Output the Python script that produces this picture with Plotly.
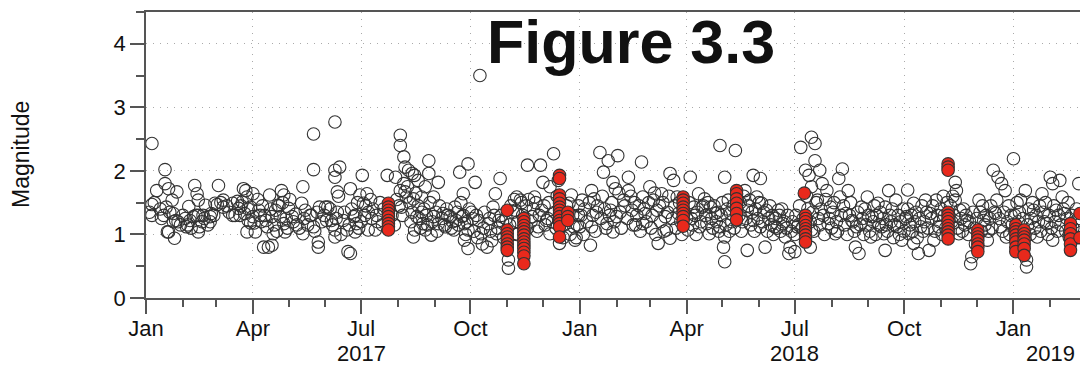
import pandas as pd
import plotly.graph_objects as go

BASE_DATE = "2017-01-01"

# ---- data: (day offset from 2017-01-01, magnitude) ----
q1_2017 = [(5,2.43),(16,2.02),(9,1.69),(5,1.47),(5,1.30),(16,1.80),(19,1.72),(26,1.67),(22,1.54),(17,1.43),
           (15,1.30),(23,1.33),(19,1.04),(18,1.04),(24,0.94),(23,1.20),(27,1.20),(33,1.25),(34,1.12),(37,1.22),
           (41,1.77),(43,1.64),(44,1.54),(36,1.44),(40,1.28),(44,1.30),(45,1.12),(44,1.04),(48,1.30),(50,1.46),
           (54,1.28),(54,1.20),(55,1.33),(61,1.77),(58,1.49),(65,1.54),(65,1.43),(73,1.49),(73,1.30),(78,1.41),
           (82,1.72),(84,1.69),(85,1.59),(81,1.51),(79,1.30),(83,1.33),(88,1.43),(86,1.22),(85,1.04),
           (3,1.35),(7,1.50),(12,1.40),(13,1.25),(20,1.35),(25,1.22),(29,1.15),(31,1.30),(35,1.15),(38,1.10),
           (42,1.30),(47,1.20),(49,1.25),(52,1.15),(57,1.30),(60,1.47),(63,1.50),(68,1.45),(70,1.35),(75,1.30),
           (77,1.52),(80,1.45),(86,1.40),(88,1.18)]
q2_2017 = [(90,1.64),(92,1.04),(90,1.28),(95,1.38),(96,1.30),(99,0.80),(103,0.80),(106,0.83),(97,1.20),(102,1.12),
           (104,1.62),(106,1.28),(109,1.38),(107,1.01),(111,1.46),(114,1.69),(116,1.62),(113,1.28),(116,1.17),(117,1.04),
           (120,1.41),(123,1.28),(127,1.15),(132,1.75),(131,1.49),(134,1.38),(132,1.01),(138,1.30),(141,1.12),(141,2.58),
           (141,2.02),(145,0.88),(145,0.80),(146,1.43),(151,1.43),(152,1.22),(159,2.77),(159,2.01),(163,2.06),(159,1.90),
           (161,1.67),(172,1.72),(153,1.43),(161,1.35),(156,1.22),(159,1.07),(159,0.96),(170,0.73),(172,0.70),(166,1.22),
           (169,1.07),(175,1.28),(177,1.17),(176,1.04),(180,1.62),
           (91,1.18),(94,1.55),(98,1.45),(100,1.30),(101,1.22),(105,1.40),(108,1.15),(110,1.05),(112,1.45),(115,1.50),
           (118,1.25),(119,1.10),(121,1.55),(124,1.20),(126,1.32),(129,1.10),(133,1.25),(136,1.15),(139,1.30),(142,1.05),
           (144,1.35),(148,1.20),(150,1.30),(155,1.40),(157,1.15),(160,1.25),(162,1.60),(164,1.00),(167,1.35),(171,1.15),
           (173,1.40),(176,1.30),(178,1.50),(179,1.10)]
q3_2017 = [(182,1.93),(183,1.49),(186,1.64),(187,1.35),(190,1.25),(193,1.07),(187,1.07),(203,1.93),(210,1.90),(214,2.56),
           (214,2.40),(217,2.22),(218,2.06),(221,2.01),(224,1.96),(226,1.93),(229,1.85),(235,1.75),(238,2.16),(238,1.96),
           (246,1.82),(214,1.69),(218,1.67),(219,1.59),(215,1.43),(225,1.56),(232,1.59),(242,1.59),(224,1.35),(228,1.28),
           (232,1.35),(233,1.17),(226,1.07),(225,0.96),(235,1.07),(240,0.99),(242,1.28),(246,1.17),(250,1.33),(252,1.12),
           (256,1.28),(260,1.43),(261,1.22),(259,1.07),(264,1.98),(271,2.11),(267,1.64),(266,1.28),(268,1.17),(271,1.07),
           (268,0.91),(271,0.78),
           (181,1.20),(184,1.30),(185,1.45),(189,1.55),(191,1.40),(194,1.30),(195,1.20),(197,1.50),(199,1.15),(200,1.40),
           (207,1.30),(209,1.15),(211,1.55),(213,1.45),(216,1.30),(217,1.80),(220,1.75),(222,1.50),(223,1.20),(227,1.65),
           (229,1.45),(230,1.25),(231,1.10),(234,1.40),(236,1.30),(237,1.15),(239,1.50),(241,1.20),(244,1.35),(245,1.05),
           (247,1.45),(249,1.25),(251,1.15),(253,1.40),(254,1.30),(257,1.10),(258,1.20),(262,1.35),(263,1.15),(265,1.50),
           (267,1.30),(269,1.00),(270,1.20),(272,1.40)]
q4_2017 = [(277,1.82),(274,1.35),(280,1.22),(282,1.01),(281,3.50),(288,1.17),(287,0.80),(292,1.43),(294,1.64),(298,1.88),
           (297,1.22),(295,1.01),(305,0.60),(305,0.47),(332,2.09),(343,2.27),(327,1.59),(312,1.59),(315,1.54),(311,1.38),
           (334,1.82),(340,1.75),(333,1.38),(337,1.22),(330,1.12),(325,1.28),(312,1.01),(340,1.01),(348,0.86),(356,1.49),
           (358,1.62),(360,1.12),(361,0.91),(364,1.30),(321,2.09),(347,1.85),
           (275,1.25),(276,1.05),(278,1.30),(279,0.95),(283,0.85),(284,1.10),(285,1.35),(289,1.25),(290,1.05),(291,0.90),
           (293,1.30),(296,1.10),(299,1.30),(300,1.20),(301,0.95),(303,1.25),(306,1.15),(307,1.45),(309,1.35),(310,1.55),
           (312,1.00),(313,1.20),(316,1.50),(317,1.30),(320,1.45),(321,1.10),(322,1.55),(324,1.20),(326,1.40),(328,1.50),
           (329,1.05),(331,1.30),(335,1.45),(336,1.15),(338,1.25),(339,1.50),(342,1.20),(344,1.35),(345,1.10),(346,1.60),
           (350,1.30),(351,0.95),(352,1.15),(354,1.45),(357,1.00),(359,1.30),(362,0.95),(363,1.15),(364,1.45)]
q1_2018 = [(365,1.12),(367,1.54),(375,1.69),(377,1.56),(375,1.12),(374,0.83),(379,1.35),(382,2.29),(389,2.16),(397,2.24),
           (385,1.98),(388,1.17),(391,1.38),(393,1.82),(395,1.72),(396,1.28),(393,1.04),(402,1.54),(406,1.90),(406,1.69),
           (409,1.38),(412,1.15),(417,2.14),(418,1.59),(418,1.17),(420,1.33),(424,1.75),(427,1.54),(430,1.38),(431,0.86),
           (434,1.64),(437,1.28),(441,0.94),(438,1.07),(441,1.96),(444,1.85),(447,1.59),(448,1.33),
           (366,1.30),(368,1.00),(369,1.40),(371,1.20),(373,1.50),(376,1.30),(378,1.05),(380,1.45),(383,1.25),(384,1.60),
           (386,1.40),(387,1.10),(390,1.30),(392,1.50),(394,1.20),(398,1.65),(399,1.35),(400,1.10),(403,1.45),(405,1.25),
           (408,1.60),(410,1.15),(411,1.50),(413,1.30),(415,1.45),(416,1.05),(419,1.40),(421,1.20),(423,1.50),(425,1.10),
           (426,1.30),(428,1.65),(429,1.00),(432,1.45),(433,1.20),(435,1.50),(436,1.05),(439,1.35),(440,1.60),(443,1.25),
           (445,1.45),(446,1.10),(449,1.50),(450,1.20),(451,1.00),(453,1.35)]
q2_2018 = [(458,1.90),(461,1.43),(459,1.25),(456,1.07),(483,2.40),(496,2.32),(487,1.90),(511,1.93),(517,1.88),(465,1.64),
           (470,1.56),(468,1.43),(475,1.43),(479,1.33),(472,1.17),(466,1.12),(474,1.01),(483,1.12),(487,0.96),(486,0.80),
           (487,0.57),(490,1.54),(492,1.33),(504,1.69),(508,1.54),(506,1.38),(511,1.22),(506,0.75),(514,1.59),(518,1.49),
           (517,1.12),(521,0.80),(522,1.38),(527,1.30),(529,1.12),(532,1.38),(536,1.17),(538,0.96),(541,0.70),(542,0.80),
           (455,1.25),(457,1.50),(460,1.15),(462,1.30),(463,1.00),(464,1.35),(467,1.20),(469,1.45),(471,1.30),(473,1.50),
           (476,1.25),(477,1.10),(478,1.45),(480,1.20),(481,1.35),(482,1.05),(484,1.30),(485,1.50),(488,1.15),(489,1.40),
           (491,1.05),(493,1.20),(494,1.45),(495,1.10),(499,1.30),(500,1.50),(501,1.05),(502,1.20),(503,1.60),(505,1.25),
           (507,1.45),(509,1.15),(510,1.35),(512,1.05),(513,1.40),(515,1.25),(516,1.50),(519,1.20),(520,1.35),(523,1.05),
           (524,1.25),(525,1.45),(526,1.15),(528,1.00),(530,1.25),(531,1.10),(533,1.30),(534,1.05),(535,1.40),(537,1.20),
           (539,1.10),(540,1.30),(543,1.05),(544,1.20)]
q3_2018 = [(546,0.73),(548,1.12),(551,2.37),(560,2.53),(563,2.43),(563,2.16),(555,2.01),(558,1.93),(567,2.01),(560,1.75),
           (565,1.54),(560,1.07),(559,0.80),(569,1.80),(573,1.69),(576,1.43),(574,1.17),(580,1.01),(583,1.88),(586,2.03),
           (584,1.59),(591,1.69),(589,1.33),(594,1.22),(598,1.12),(597,0.80),(600,0.70),(602,1.43),(607,1.59),(610,0.96),
           (611,1.28),(616,1.49),(619,1.12),(625,1.69),(622,1.43),(626,1.30),(621,1.01),(622,0.75),(631,1.54),(632,1.12),
           (636,0.91),
           (546,1.00),(547,1.30),(549,1.15),(550,1.45),(552,1.10),(553,1.25),(556,1.60),(557,1.40),(559,1.20),(561,1.35),
           (562,1.05),(564,1.50),(566,1.25),(567,1.15),(568,1.40),(570,1.30),(571,1.00),(572,1.55),(575,1.25),(577,1.10),
           (578,1.35),(579,1.50),(581,1.20),(582,1.05),(585,1.30),(587,1.45),(588,1.15),(590,1.00),(592,1.30),(593,1.50),
           (595,1.20),(596,1.05),(599,1.35),(601,1.15),(603,1.25),(604,1.00),(605,1.40),(606,1.15),(608,1.30),(609,1.05),
           (612,1.20),(613,1.45),(614,1.00),(615,1.30),(617,1.15),(618,1.35),(620,1.25),(623,1.15),(624,1.05),(627,1.20),
           (628,1.40),(629,0.95),(630,1.15),(633,1.30),(634,1.00),(635,1.20),(637,1.40)]
q4_2018 = [(640,1.28),(642,1.01),(646,1.49),(646,0.86),(650,0.70),(652,1.12),(656,1.54),(660,1.33),(659,0.75),(663,0.91),
           (665,1.54),(667,1.12),(681,1.82),(682,1.69),(681,1.54),(685,1.38),(684,1.01),(691,1.22),(694,0.54),(695,0.65),
           (701,1.54),(705,1.22),(708,0.91),(713,2.01),(717,1.90),(720,1.80),(723,1.69),(716,1.54),(715,1.33),(719,1.12),
           (724,0.96),(641,1.70),
           (638,1.05),(639,1.25),(641,1.40),(643,1.15),(644,1.30),(645,1.05),(647,1.20),(648,1.35),(649,0.95),(651,1.25),
           (653,1.45),(654,1.05),(655,1.20),(657,1.35),(658,1.10),(661,1.25),(662,1.45),(664,1.05),(666,1.30),(668,1.20),
           (669,1.40),(670,1.00),(671,1.60),(672,1.30),(673,1.10),(674,1.50),(677,1.45),(678,1.20),(679,1.60),(680,1.30),
           (683,1.10),(686,1.25),(687,1.05),(688,1.40),(689,1.15),(690,1.30),(692,1.00),(693,1.20),(696,1.35),(697,1.10),
           (698,0.85),(699,1.25),(702,1.35),(703,1.05),(704,1.45),(706,1.15),(707,1.30),(709,1.05),(710,1.25),(711,1.45),
           (712,1.10),(714,1.35),(718,1.25),(721,1.05),(722,1.35),(725,1.20),(726,1.45),(727,1.00),(728,1.30),(729,1.15)]
q1_2019 = [(730,2.19),(736,1.54),(740,1.69),(741,0.60),(741,0.49),(747,1.38),(750,0.96),(754,1.64),(758,1.17),(761,1.90),
           (769,1.85),(763,1.80),(771,1.59),(773,1.33),(766,1.38),(763,0.91),(785,1.80),
           (731,1.30),(733,1.50),(734,1.20),(735,1.35),(737,1.05),(738,1.25),(742,1.15),(743,1.40),(744,1.00),(745,1.25),
           (746,1.50),(748,1.10),(749,1.30),(751,1.20),(752,1.45),(753,1.05),(755,1.35),(756,1.20),(757,1.50),(759,1.00),
           (760,1.30),(762,1.10),(764,1.45),(765,1.20),(767,1.05),(768,1.30),(770,1.15),(772,1.40),(774,1.05),(775,1.25),
           (776,1.50),(777,0.95),(779,1.30),(780,1.10),(782,1.20),(783,1.40),(784,0.95),(786,1.25)]

# highlighted (red) events: (day offset, magnitude)
red_events = [(204,1.49),(204,1.43),(204,1.38),(204,1.33),(204,1.28),(204,1.22),(204,1.17),(204,1.12),(204,1.07),
              (304,1.38),(304,1.07),(304,1.01),(304,0.96),(304,0.91),(304,0.85),(304,0.80),(304,0.75),
              (318,1.25),(318,1.20),(318,1.14),(318,1.09),(318,1.04),(318,0.99),(318,0.93),(318,0.88),(318,0.83),
              (318,0.78),(318,0.72),(318,0.66),(318,0.54),
              (348,1.93),(348,1.88),(348,1.62),(348,1.56),(348,1.49),(348,1.43),(348,1.38),(348,1.33),(348,1.28),
              (348,1.22),(348,1.17),(348,1.12),(348,0.96),(355,1.35),(355,1.28),(355,1.22),
              (452,1.59),(452,1.54),(452,1.49),(452,1.43),(452,1.38),(452,1.33),(452,1.28),(452,1.22),(452,1.13),
              (497,1.69),(497,1.64),(497,1.56),(497,1.49),(497,1.41),(497,1.33),(497,1.23),
              (554,1.65),(555,1.30),(555,1.25),(555,1.20),(555,1.14),(555,1.09),(555,1.04),(555,0.99),(555,0.93),(555,0.88),
              (675,2.11),(675,2.06),(675,2.01),(675,1.35),(675,1.30),(675,1.25),(675,1.20),(675,1.14),(675,1.09),
              (675,1.04),(675,0.99),(675,0.93),
              (700,1.07),(700,1.01),(700,0.96),(700,0.91),(700,0.85),(700,0.80),(700,0.73),
              (732,1.15),(732,1.09),(732,1.04),(732,0.99),(732,0.93),(732,0.88),(732,0.80),(732,0.73),
              (739,1.07),(739,1.01),(739,0.96),(739,0.91),(739,0.85),(739,0.78),(739,0.67),
              (778,1.17),(778,1.09),(778,1.01),(778,0.93),(778,0.85),(778,0.75),
              (786,1.33),(786,0.95)]

month_tick_dates = ["2017-01-01","2017-04-01","2017-07-01","2017-10-01",
                    "2018-01-01","2018-04-01","2018-07-01","2018-10-01","2019-01-01"]
month_tick_labels = ["Jan","Apr","Jul","Oct","Jan","Apr","Jul","Oct","Jan"]
year_label_dates = ["2017-07-01","2018-07-01","2019-02-01"]
year_labels = ["2017","2018","2019"]
x_range = ["2017-01-01","2019-02-26"]
y_range = [0, 4.5]

# ---- build ----
base = pd.Timestamp(BASE_DATE)
black = q1_2017 + q2_2017 + q3_2017 + q4_2017 + q1_2018 + q2_2018 + q3_2018 + q4_2018 + q1_2019
bx = [base + pd.Timedelta(days=d) for d, _ in black]
by = [m for _, m in black]
rx = [base + pd.Timedelta(days=d) for d, _ in red_events]
ry = [m for _, m in red_events]

FONT = "Liberation Sans, Arial, Helvetica, sans-serif"

fig = go.Figure()
fig.add_trace(go.Scatter(x=bx, y=by, mode="markers", showlegend=False,
                         marker=dict(symbol="circle", size=12.5, color="rgba(255,255,255,0)",
                                     line=dict(color="#333333", width=1.1))))
fig.add_trace(go.Scatter(x=rx, y=ry, mode="markers", showlegend=False,
                         marker=dict(symbol="circle", size=12.5, color="#e8291c",
                                     line=dict(color="#333333", width=1.1))))

fig.update_xaxes(type="date", range=x_range, tickmode="array",
                 tickvals=month_tick_dates, ticktext=month_tick_labels,
                 ticks="outside", ticklen=14, tickwidth=1.5, tickcolor="#555",
                 ticklabelstandoff=-4,
                 showline=True, linecolor="#555", linewidth=1.5, mirror=True,
                 showgrid=True, gridcolor="#aaaaaa", gridwidth=1, griddash="1px,6px",
                 tickfont=dict(family=FONT, size=22, color="#111"),
                 minor=dict(dtick="M1", tick0="2017-01-01", ticks="outside", ticklen=7,
                            tickwidth=1.5, tickcolor="#555", showgrid=False),
                 zeroline=False)
fig.update_yaxes(range=y_range, tickvals=[0, 1, 2, 3, 4],
                 ticks="outside", ticklen=14, tickwidth=1.5, tickcolor="#555",
                 showline=True, linecolor="#555", linewidth=1.5, mirror=False,
                 showgrid=True, gridcolor="#aaaaaa", gridwidth=1, griddash="1px,6px",
                 tickfont=dict(family=FONT, size=22, color="#111"),
                 minor=dict(dtick=0.5, ticks="outside", ticklen=8, tickwidth=1.5,
                            tickcolor="#555", showgrid=False),
                 zeroline=False)

annotations = [
    dict(text="Figure 3.3", xref="paper", yref="paper", x=0.519, y=1.0, xanchor="center",
         yanchor="top", showarrow=False, yshift=6,
         font=dict(family=FONT, size=61, color="#111", weight="bold")),
    dict(text="Magnitude", xref="paper", yref="paper", x=-0.1338, y=0.5, xanchor="center",
         yanchor="middle", textangle=-90, showarrow=False,
         font=dict(family=FONT, size=23, color="#111")),
]
for d, lab in zip(year_label_dates, year_labels):
    annotations.append(dict(text=lab, xref="x", yref="paper", x=d, y=0, yanchor="top",
                            xanchor="center", yshift=-41, showarrow=False,
                            font=dict(family=FONT, size=22, color="#111")))

fig.update_layout(width=1080, height=365, margin=dict(l=146, r=0, t=12, b=67),
                  paper_bgcolor="white", plot_bgcolor="white", annotations=annotations)

fig.write_html("out.html")
